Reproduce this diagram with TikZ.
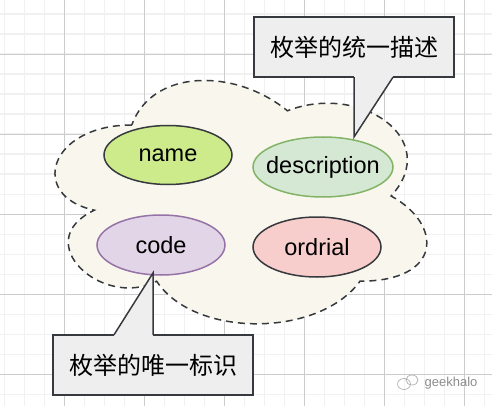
\documentclass[tikz,border=0pt]{standalone}
\usepackage{fontspec}
\setmainfont{Liberation Sans}
\newfontfamily\cjk{Noto Sans CJK SC}
\usetikzlibrary{arrows.meta,positioning,calc,shapes.geometric}
\definecolor{gridminor}{HTML}{F1F1F1}
\definecolor{gridmajor}{HTML}{CCCCCC}
\definecolor{inkline}{HTML}{36393D}
\definecolor{cloudfill}{HTML}{F9F7ED}
\definecolor{limefill}{HTML}{CDEB8B}
\definecolor{sagefill}{HTML}{D5E8D4}
\definecolor{sageline}{HTML}{82B366}
\definecolor{lilacfill}{HTML}{E1D5E7}
\definecolor{lilacline}{HTML}{9673A6}
\definecolor{rosefill}{HTML}{F8CECC}
\definecolor{notefill}{HTML}{EEEEEE}
\tikzset{
  % bakgrund
  minorline/.style={draw=gridminor,line width=1.6pt},
  majorline/.style={draw=gridmajor,line width=0.8pt},
  cloudline/.style={draw=inkline,fill=cloudfill,line width=1.5pt,
                    dash pattern=on 7pt off 5pt},
  % fält
  fld/.style={ellipse,line width=1.5pt,inner xsep=-14pt,inner ysep=-10pt,
              minimum width=128pt,minimum height=59pt,
              font=\fontsize{23.5}{28}\selectfont},
  % lappar
  note/.style={rectangle,fill=notefill,draw=none,inner sep=0pt,
               minimum width=200pt,minimum height=60pt,
               font=\cjk\fontsize{24}{28}\selectfont},
  noteline/.style={draw=inkline,line width=1.5pt,line join=miter},
  notetail/.style={fill=notefill,draw=inkline,line width=1.5pt,line join=miter},
}
\begin{document}
\begin{tikzpicture}[x=1pt,y=-1pt]
\useasboundingbox (0,0) rectangle (492,406);
  \foreach \gx in {0,...,24} \draw[minorline] (4.3+20*\gx,0) -- (4.3+20*\gx,406);
  \foreach \gy in {0,...,19} \draw[minorline] (0,14.3+20*\gy) -- (492,14.3+20*\gy);
  \foreach \gx in {0,...,5} \draw[majorline] (64.3+80*\gx,0) -- (64.3+80*\gx,406);
  \foreach \gy in {0,...,4} \draw[majorline] (0,54.3+80*\gy) -- (492,54.3+80*\gy);
  \draw[cloudline] (131.75,125) .. controls (48.75,125) and (28,196) .. (94.4,210.2)
    .. controls (28,241.4) and (102.7,309.6) .. (156.65,281.2)
    .. controls (194,338) and (318.5,338) .. (360,281.2)
    .. controls (443,281.2) and (443,224.4) .. (391.1,196)
    .. controls (443,139.2) and (360,82.4) .. (287.4,110.8)
    .. controls (235.5,68.2) and (152.5,68.2) .. (131.75,125) -- cycle;
  \node[fld,fill=limefill,draw=inkline] (name) at (168,155) {name};
  \node[fld,fill=sagefill,draw=sageline,minimum width=140pt,minimum height=60pt]
    (description) at (323,167) {description};
  \node[fld,fill=lilacfill,draw=lilacline,minimum height=60pt] (code) at (161,245) {code};
  \node[fld,fill=rosefill,draw=inkline,minimum height=60pt] (ordrial) at (317,247) {ordrial};
  \node[note] (descnote) at (354,47) {枚举的统一描述};
  \coordinate (desctip) at (354,137);
  \filldraw[notetail] ([xshift=39]descnote.south) -- (desctip) -- (descnote.south);
  \draw[noteline] ([xshift=39]descnote.south) -| (descnote.north east)
    -| (descnote.south west) -- (descnote.south);
  \node[note] (codenote) at (153,365) {枚举的唯一标识};
  \coordinate (codetip) at (153,273);
  \filldraw[notetail] ([xshift=-39]codenote.north) -- (codetip) -- (codenote.north);
  \draw[noteline] ([xshift=-39]codenote.north) -| (codenote.south west)
    -| (codenote.north east) -- (codenote.north);
  \node[font=\fontsize{13}{15}\selectfont,text=black!45] (mark) at (451,383) {geekhalo};
  \draw[black!30,line width=0.7pt] ([xshift=-47,yshift=-1]mark.center) circle[x radius=6.5,y radius=5.5]
    ([xshift=-39,yshift=3]mark.center) circle[x radius=6,y radius=5];
\end{tikzpicture}
\end{document}
